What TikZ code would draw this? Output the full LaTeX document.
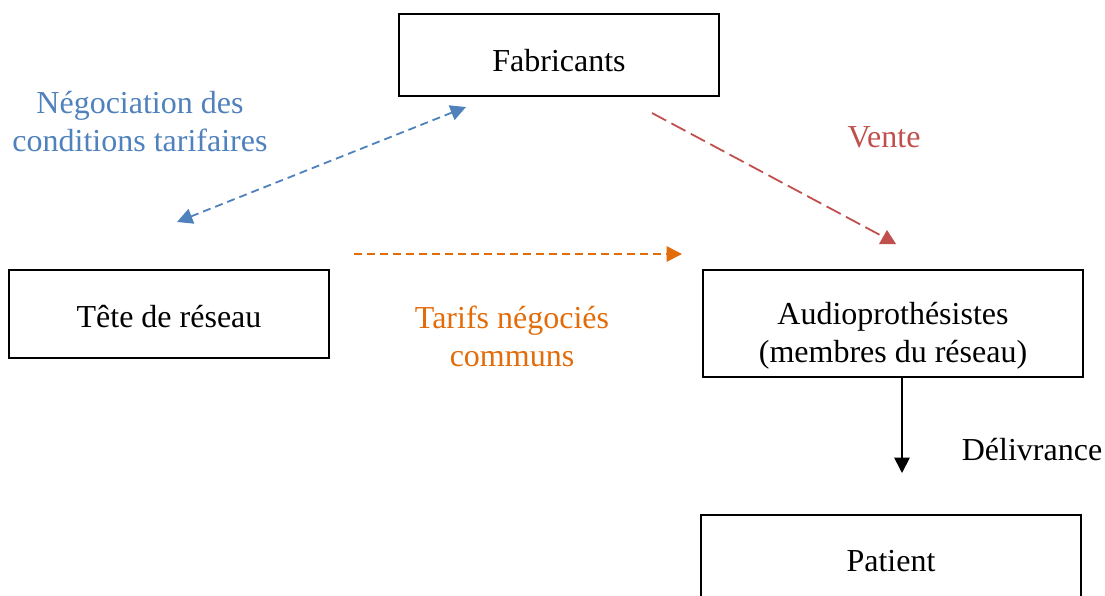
\documentclass[tikz,border=0pt]{standalone}
\usepackage{fontspec}
\setmainfont{Liberation Serif}
\usetikzlibrary{arrows.meta}
\definecolor{cblue}{HTML}{4F81BD}
\definecolor{cred}{HTML}{C0504D}
\definecolor{corange}{HTML}{E36C0A}
\newcommand{\dropby}[2]{\raisebox{-#1}[\height][\depth]{#2}}
\tikzset{
 boxn/.style={draw=black,line width=2pt,inner sep=0pt,align=center,font=\fontsize{32}{38}\selectfont,text=black},
 lab/.style={align=center,font=\fontsize{32}{38}\selectfont,inner sep=0pt},
 tip/.style={-{Triangle[length=15.5pt,width=15.5pt]}},
 conn/.style={line width=1.8pt},
}
\begin{document}
\begin{tikzpicture}[x=1pt,y=-1pt]
\useasboundingbox (0,0) rectangle (1105,596);
\path[clip] (0,0) rectangle (1105,596);
\node[boxn,minimum width=320pt,minimum height=82pt] (fab) at (559,55) {\dropby{6pt}{Fabricants}};
\node[boxn,minimum width=320pt,minimum height=88pt] (tete) at (169,314) {\dropby{3pt}{Tête de réseau}};
\node[boxn,minimum width=380pt,minimum height=107pt] (audio) at (893,323) {\dropby{13pt}{\begin{tabular}{@{}c@{}}Audioprothésistes\\(membres du réseau)\end{tabular}}};
\node[boxn,minimum width=380pt,minimum height=100pt] (pat) at (891,565) {\dropby{-4pt}{Patient}};
\node[lab,text=cblue] (l1) at (140,121.5) {Négociation des\\conditions tarifaires};
\node[lab,text=cred] (l2) at (884,137) {Vente};
\node[lab,text=corange] (l3) at (512,336.5) {Tarifs négociés\\communs};
\node[lab,text=black] (l4) at (1032,449.5) {Délivrance};
\coordinate (a1) at (177,222);
\coordinate (a2) at (466,107);
\coordinate (b1) at (652,113);
\coordinate (b2) at (880,235);
\coordinate (b3) at (887,230);
\coordinate (b4) at (879,244);
\coordinate (b5) at (896,244);
\coordinate (c1) at (354,254);
\coordinate (c2) at (682,254);
\coordinate (d2) at (902,473);
\draw[conn,cblue,dash pattern=on 8pt off 5pt,{Triangle[length=15.5pt,width=15.5pt]}-{Triangle[length=15.5pt,width=15.5pt]}] (a1) -- (a2);
\draw[conn,cred,dash pattern=on 16pt off 6pt] (b1) -- (b2);
\fill[cred] (b3) -- (b4) -- (b5) -- cycle;
\draw[conn,corange,dash pattern=on 8pt off 5pt,tip] (c1) -- (c2);
\draw[conn,black,tip] (audio.south -| d2) -- (d2);
\end{tikzpicture}
\end{document}
